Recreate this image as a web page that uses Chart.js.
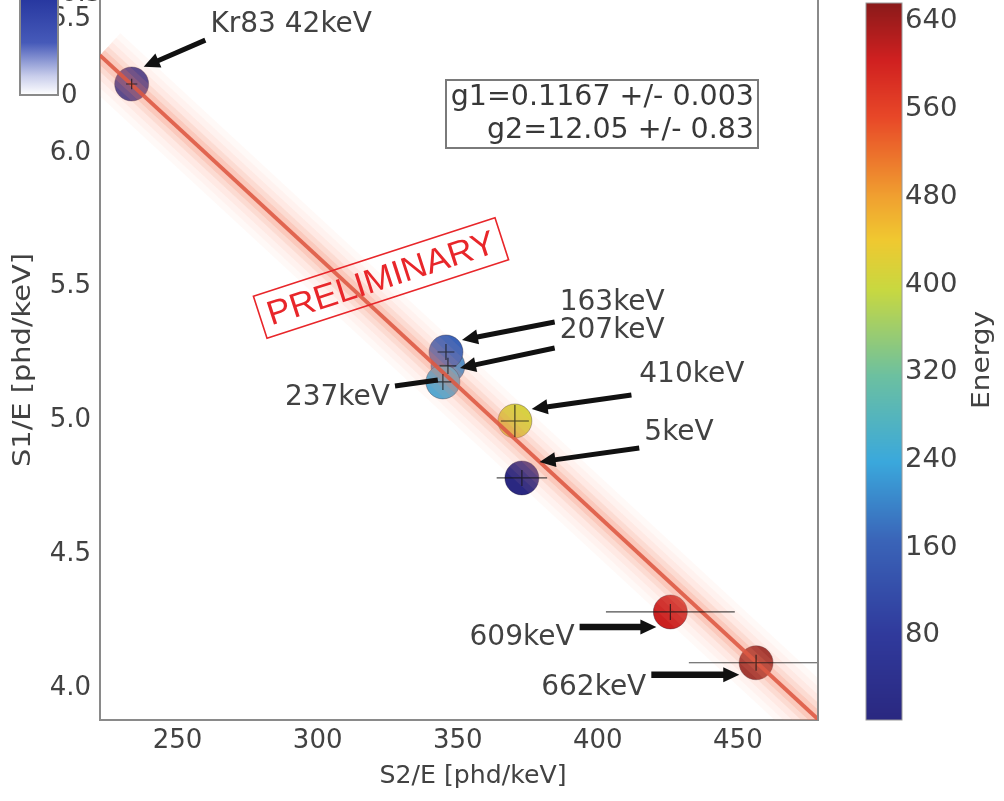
<!DOCTYPE html>
<html>
<head>
<meta charset="utf-8">
<script src="https://cdn.jsdelivr.net/npm/chart.js@4.4.1/dist/chart.umd.min.js"></script>
<style>
  html, body { margin: 0; padding: 0; background: #fff; }
  canvas { display: block; }
</style>
</head>
<body>
<canvas id="g1g2Chart" width="1004" height="801"></canvas>
<script>
// calibration points (S2/E vs S1/E), coloured by line energy
const peakNames = ['207keV', 'Kr83 42keV', '163keV', '237keV', '410keV', '5keV', '609keV', '662keV'];
const energies = [207, 42, 163, 237, 410, 5, 609, 662];
const s2PerE = [346.5, 233.6, 345.8, 344.7, 370.4, 372.9, 425.9, 456.5];
const s1PerE = [5.204, 6.258, 5.256, 5.144, 4.998, 4.785, 4.284, 4.094];
const s2Err = [3, 2, 3, 3, 5, 9, 23, 24];
const s1Err = [0.03, 0.02, 0.03, 0.03, 0.06, 0.03, 0.03, 0.03];

// fitted line ends
const fitS2 = [222.3, 478.6];
const fitS1 = [6.365, 3.883];

const xTicks = [250, 300, 350, 400, 450];
const yTicks = [4.0, 4.5, 5.0, 5.5, 6.0, 6.5];
const energyTicks = [80, 160, 240, 320, 400, 480, 560, 640];
const energyRange = [3, 657];

// arrows: tail -> tip in data units, label anchor in data units
const arrowTail = [[384.6, 5.271], [259.9, 6.422], [384.6, 5.368], [327.6, 5.129], [412.0, 5.095], [414.8, 4.897], [393.5, 4.228], [419.1, 4.049]];
const arrowTip = [[350.8, 5.196], [237.9, 6.322], [351.5, 5.301], [342.9, 5.151], [376.4, 5.043], [379.2, 4.845], [420.9, 4.228], [450.5, 4.049]];
const labelAt = [[386.4, 5.335], [261.7, 6.479], [386.4, 5.439], [325.8, 5.084], [414.8, 5.170], [416.6, 4.953], [391.7, 4.187], [417.3, 4.000]];
const labelAlign = ['left', 'left', 'left', 'right', 'left', 'left', 'right', 'right'];

// muted jet colormap as seen in the figure
const cmapStops = [
    [0.00, [42, 40, 128]], [0.12, [48, 58, 156]], [0.25, [58, 100, 184]],
    [0.36, [58, 168, 220]], [0.48, [108, 192, 160]], [0.60, [200, 216, 64]],
    [0.67, [240, 200, 48]], [0.73, [240, 160, 48]], [0.84, [232, 72, 40]],
    [0.92, [208, 32, 32]], [1.00, [138, 26, 26]]
];

function cmap(t) {
    t = Math.max(0, Math.min(1, t));
    for (let i = 1; i < cmapStops.length; i++) {
        if (t <= cmapStops[i][0]) {
            const a = cmapStops[i - 1], b = cmapStops[i];
            const f = (t - a[0]) / (b[0] - a[0]);
            const c = a[1].map((v, k) => Math.round(v + (b[1][k] - v) * f));
            return 'rgb(' + c.join(',') + ')';
        }
    }
    return 'rgb(138,26,26)';
}
const energyColor = e => cmap((e - energyRange[0]) / (energyRange[1] - energyRange[0]));

const FONT = '"DejaVu Sans", sans-serif';
const TXT = '#424242';

function drawArrow(ctx, x0, y0, x1, y1, w, head) {
    const ang = Math.atan2(y1 - y0, x1 - x0);
    const hl = head ? 13 : 0;
    ctx.save();
    ctx.strokeStyle = '#111';
    ctx.fillStyle = '#111';
    ctx.lineWidth = w;
    ctx.beginPath();
    ctx.moveTo(x0, y0);
    ctx.lineTo(x1 - Math.cos(ang) * hl, y1 - Math.sin(ang) * hl);
    ctx.stroke();
    if (head) {
        ctx.translate(x1, y1);
        ctx.rotate(ang);
        ctx.beginPath();
        ctx.moveTo(0, 0);
        ctx.lineTo(-16, -7.5);
        ctx.lineTo(-16, 7.5);
        ctx.closePath();
        ctx.fill();
    }
    ctx.restore();
}

// text stretched to a given length (the scanned figure is slightly distorted)
function fitText(ctx, text, x, y, len) {
    const w = ctx.measureText(text).width;
    ctx.save();
    ctx.translate(x, y);
    ctx.scale(len / w, 1);
    ctx.fillText(text, 0, 0);
    ctx.restore();
}

const overlayPlugin = {
    id: 'overlay',
    afterDatasetsDraw(chart) {
        const ctx = chart.ctx, xs = chart.scales.x, ys = chart.scales.y;
        const area = chart.chartArea;
        ctx.save();
        ctx.beginPath();
        ctx.rect(area.left, area.top, area.right - area.left, area.bottom - area.top);
        ctx.clip();
        // error bars
        ctx.strokeStyle = 'rgba(20,20,20,0.75)';
        ctx.lineWidth = 1.2;
        s2PerE.forEach((x, i) => {
            const px = xs.getPixelForValue(x), py = ys.getPixelForValue(s1PerE[i]);
            ctx.beginPath();
            ctx.moveTo(xs.getPixelForValue(x - s2Err[i]), py);
            ctx.lineTo(xs.getPixelForValue(x + s2Err[i]), py);
            ctx.moveTo(px, ys.getPixelForValue(s1PerE[i] - s1Err[i]));
            ctx.lineTo(px, ys.getPixelForValue(s1PerE[i] + s1Err[i]));
            ctx.stroke();
        });
        ctx.restore();
    },
    afterDraw(chart) {
        const ctx = chart.ctx, xs = chart.scales.x, ys = chart.scales.y;
        const area = chart.chartArea;
        ctx.save();

        // right spine
        ctx.strokeStyle = '#8a8a8a';
        ctx.lineWidth = 2;
        ctx.beginPath();
        ctx.moveTo(area.right, area.top);
        ctx.lineTo(area.right, area.bottom + 1);
        ctx.stroke();

        // arrows and labels
        ctx.font = '28px ' + FONT;
        ctx.textBaseline = 'middle';
        peakNames.forEach((name, i) => {
            const x0 = xs.getPixelForValue(arrowTail[i][0]), y0 = ys.getPixelForValue(arrowTail[i][1]);
            const x1 = xs.getPixelForValue(arrowTip[i][0]), y1 = ys.getPixelForValue(arrowTip[i][1]);
            const thick = energies[i] > 600 ? 6.5 : 5;
            drawArrow(ctx, x0, y0, x1, y1, thick, name !== '237keV');
            ctx.fillStyle = TXT;
            ctx.textAlign = labelAlign[i];
            ctx.fillText(name, xs.getPixelForValue(labelAt[i][0]), ys.getPixelForValue(labelAt[i][1]));
        });

        // fit result box
        ctx.strokeStyle = '#7a7a7a';
        ctx.lineWidth = 2;
        ctx.fillStyle = '#fff';
        ctx.fillRect(446, 80, 312, 68);
        ctx.strokeRect(446, 80, 312, 68);
        ctx.fillStyle = '#383838';
        ctx.textAlign = 'right';
        ctx.font = '28.5px ' + FONT;
        ctx.fillText('g1=0.1167 +/- 0.003', 754, 98);
        ctx.fillText('g2=12.05 +/- 0.83', 754, 131);

        // PRELIMINARY stamp
        ctx.save();
        ctx.translate(381, 278);
        ctx.rotate(-18 * Math.PI / 180);
        ctx.strokeStyle = '#e8262a';
        ctx.lineWidth = 1.6;
        ctx.strokeRect(-127, -22, 254, 44);
        ctx.fillStyle = '#e8262a';
        ctx.font = '34px "Liberation Sans", Arial, sans-serif';
        ctx.textAlign = 'center';
        fitText(ctx, 'PRELIMINARY', 0, 2, 238);
        ctx.restore();

        // small inset colour bar top-left
        const ig = ctx.createLinearGradient(0, 0, 0, 95);
        ig.addColorStop(0, 'rgb(40,56,160)');
        ig.addColorStop(0.45, 'rgb(70,90,185)');
        ig.addColorStop(0.8, 'rgb(200,205,235)');
        ig.addColorStop(1, 'rgb(255,255,255)');
        ctx.fillStyle = ig;
        ctx.fillRect(20, -2, 38, 97);
        ctx.strokeStyle = '#8a8a8a';
        ctx.lineWidth = 2;
        ctx.strokeRect(20, -2, 38, 97);
        ctx.fillStyle = TXT;
        ctx.font = '26px ' + FONT;
        ctx.textAlign = 'left';
        ctx.fillText('0', 61, 96);
        ctx.fillText('0.5', 61, -6);

        // energy colour bar on the right
        const cbTop = 3, cbBot = 720, cbL = 866, cbW = 36;
        const eToY = e => cbBot - (e - energyRange[0]) / (energyRange[1] - energyRange[0]) * (cbBot - cbTop);
        for (let y = cbTop; y < cbBot; y++) {
            const t = (cbBot - y - 0.5) / (cbBot - cbTop);
            ctx.fillStyle = cmap(t);
            ctx.fillRect(cbL, y, cbW, 1);
        }
        ctx.strokeStyle = '#9a9a9a';
        ctx.lineWidth = 1;
        ctx.strokeRect(cbL, cbTop, cbW, cbBot - cbTop);
        ctx.fillStyle = TXT;
        ctx.font = '26px ' + FONT;
        ctx.textAlign = 'left';
        energyTicks.forEach(e => {
            const s = String(e);
            fitText(ctx, s, 905, eToY(e), s.length * 17.5);
        });
        ctx.save();
        ctx.translate(982, 360);
        ctx.rotate(-Math.PI / 2);
        ctx.textAlign = 'center';
        ctx.font = '25px ' + FONT;
        fitText(ctx, 'Energy', 0, 0, 98);
        ctx.restore();

        // axis titles
        ctx.font = '25px ' + FONT;
        ctx.textAlign = 'center';
        fitText(ctx, 'S2/E [phd/keV]', 473, 776, 187);
        ctx.save();
        ctx.translate(23, 360);
        ctx.rotate(-Math.PI / 2);
        fitText(ctx, 'S1/E [phd/keV]', 0, 0, 214);
        ctx.restore();

        ctx.restore();
    }
};

// soft glow around the fit line, darker core on top
const bandStyles = [
    { w: 60, c: 'rgba(250,175,150,0.08)' },
    { w: 48, c: 'rgba(250,165,140,0.08)' },
    { w: 36, c: 'rgba(246,150,120,0.1)' },
    { w: 24, c: 'rgba(242,130,100,0.14)' },
    { w: 14, c: 'rgba(238,110,80,0.2)' },
    { w: 4, c: 'rgba(200,45,30,0.9)' }
];

const fitPoints = fitS2.map((x, i) => ({ x: x, y: fitS1[i] }));

const datasets = bandStyles.map(b => ({
    type: 'line',
    data: fitPoints,
    borderColor: b.c,
    borderWidth: b.w,
    pointRadius: 0,
    fill: false,
    order: 0
}));
datasets.push({
    type: 'scatter',
    data: s2PerE.map((x, i) => ({ x: x, y: s1PerE[i] })),
    backgroundColor: energies.map(energyColor),
    borderColor: 'rgba(30,20,40,0.35)',
    borderWidth: 1,
    pointRadius: 17,
    order: 1
});

const tickFont = { family: FONT, size: 26 };

new Chart(document.getElementById('g1g2Chart').getContext('2d'), {
    type: 'scatter',
    data: { datasets: datasets },
    options: {
        responsive: false,
        animation: false,
        devicePixelRatio: 1,
        layout: { autoPadding: false, padding: { left: 0, right: 186, top: 0, bottom: 0 } },
        plugins: { legend: { display: false }, tooltip: { enabled: false } },
        scales: {
            x: {
                type: 'linear',
                min: 222.3,
                max: 478.6,
                afterBuildTicks: s => { s.ticks = xTicks.map(v => ({ value: v })); },
                afterFit: s => { s.height = 81; s.paddingLeft = 0; s.paddingRight = 0; },
                grid: { display: false, drawTicks: false },
                border: { display: true, color: '#8a8a8a', width: 2 },
                ticks: { font: tickFont, color: TXT, padding: 6, maxRotation: 0, callback: v => String(v) }
            },
            y: {
                type: 'linear',
                min: 3.880,
                max: 6.572,
                afterBuildTicks: s => { s.ticks = yTicks.map(v => ({ value: v })); },
                afterFit: s => { s.width = 100; s.paddingTop = 0; s.paddingBottom = 0; },
                grid: { display: false, drawTicks: false },
                border: { display: true, color: '#8a8a8a', width: 2 },
                ticks: { font: tickFont, color: TXT, padding: 9, callback: v => Number(v).toFixed(1) }
            }
        }
    },
    plugins: [overlayPlugin]
});
</script>
</body>
</html>
